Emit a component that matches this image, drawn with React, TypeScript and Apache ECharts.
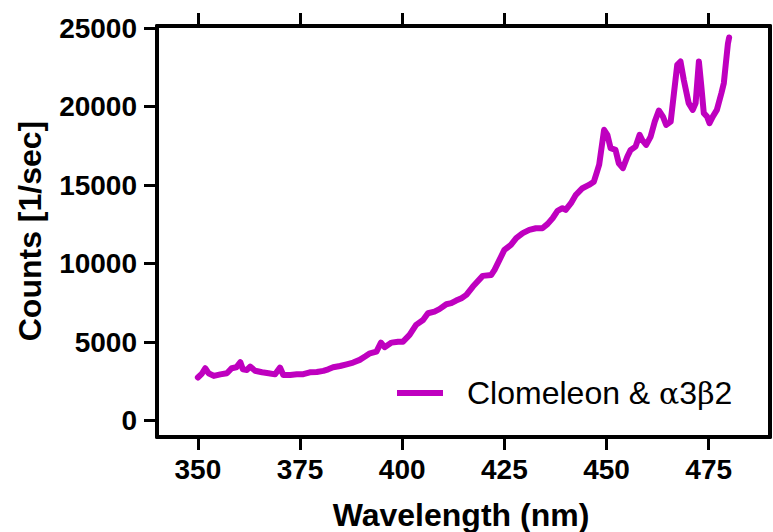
import React, { useEffect, useRef } from "react";
import * as echarts from "echarts";

const wavelengths = [
  350.0, 351.0, 351.8, 352.6, 353.9, 355.5, 357.1, 358.3, 359.4, 360.4, 361.0, 362.0, 362.8, 364.0,
  365.7, 367.3, 368.9, 370.1, 370.9, 372.6, 374.2, 375.8, 377.4, 379.1, 380.7, 381.9, 383.1, 384.8,
  386.4, 388.0, 389.6, 391.0, 392.1, 393.7, 394.8, 395.7, 397.4, 399.0, 400.2, 401.8, 403.4, 405.1,
  406.3, 407.9, 409.1, 410.8, 412.0, 413.2, 414.5, 415.7, 417.3, 419.7, 421.8, 422.6, 423.8, 425.0,
  426.6, 427.9, 429.5, 431.1, 432.7, 434.3, 435.6, 436.8, 438.0, 439.2, 440.0, 441.3, 442.5, 444.1,
  445.7, 446.9, 447.6, 448.2, 449.4, 450.2, 451.0, 452.2, 453.0, 454.0, 455.1, 455.9, 457.1, 458.1,
  458.7, 459.7, 460.8, 461.8, 462.8, 463.8, 464.6, 465.7, 466.5, 467.3, 468.1, 468.9, 470.1, 471.1,
  471.8, 472.6, 473.2, 473.8, 474.6, 475.2, 476.0, 477.0, 478.1, 478.7, 479.2, 479.7, 480.0,
];

const counts = [
  2750, 3000, 3340, 3020, 2850, 2950, 3020, 3340, 3400, 3720, 3270, 3230, 3440, 3180,
  3080, 3020, 2950, 3380, 2910, 2910, 2950, 2960, 3080, 3100, 3170, 3270, 3400, 3480,
  3590, 3700, 3870, 4100, 4290, 4400, 4970, 4680, 4970, 5030, 5030, 5460, 6100, 6410,
  6840, 6940, 7100, 7410, 7480, 7650, 7800, 8010, 8540, 9220, 9280, 9600, 10240, 10870,
  11190, 11620, 11940, 12150, 12250, 12250, 12530, 12890, 13360, 13530, 13420, 13850, 14380, 14800,
  15010, 15220, 15800, 16300, 18520, 18200, 17350, 17240, 16390, 16080, 16820, 17240, 17450, 18200,
  17880, 17560, 18090, 19040, 19750, 19360, 18830, 19040, 20850, 22660, 22870, 21700, 20220, 19790,
  20220, 22870, 21270, 19580, 19360, 18940, 19360, 19790, 20850, 21490, 22760, 24000, 24400,
];

const xTicks = [350, 375, 400, 425, 450, 475];
const yTicks = [0, 5000, 10000, 15000, 20000, 25000];

const seriesName = "Clomeleon & α3β2";
const xTitle = "Wavelength (nm)";
const yTitle = "Counts [1/sec]";

const FONT = "'Liberation Sans', Arial, Helvetica, sans-serif";
const LINE_COLOR = "#BF00BF";

export default function App() {
  const ref = useRef<HTMLDivElement>(null);

  useEffect(() => {
    document.body.style.margin = "0";
    if (!ref.current) return;
    const chart = echarts.init(ref.current, null, { renderer: "svg" });

    const axisLine = { show: true, onZero: false, lineStyle: { color: "#000", width: 4 } };
    const tickStyle = { color: "#000", width: 3 };
    const labelStyle = {
      fontFamily: FONT,
      fontWeight: "bold" as const,
      fontSize: 28,
      color: "#000",
      formatter: (v: number) => String(v),
    };

    chart.setOption({
      animation: false,
      backgroundColor: "#fff",
      grid: { left: 157, right: 3, top: 26, bottom: 95, containLabel: false },
      xAxis: [
        {
          type: "value",
          min: 340,
          max: 490,
          position: "bottom",
          axisLine,
          axisTick: { show: true, customValues: xTicks, length: 13, lineStyle: tickStyle },
          axisLabel: { show: true, customValues: xTicks, margin: 18, ...labelStyle },
          splitLine: { show: false },
        },
        {
          type: "value",
          min: 340,
          max: 490,
          position: "top",
          axisLine,
          axisTick: { show: true, customValues: xTicks, length: 13, lineStyle: tickStyle },
          axisLabel: { show: false },
          splitLine: { show: false },
        },
      ],
      yAxis: [
        {
          type: "value",
          min: -1040,
          max: 25130,
          position: "left",
          axisLine,
          axisTick: { show: true, customValues: yTicks, length: 13, lineStyle: tickStyle },
          axisLabel: { show: true, customValues: yTicks, margin: 20, ...labelStyle },
          splitLine: { show: false },
        },
        {
          type: "value",
          min: -1040,
          max: 25130,
          position: "right",
          axisLine,
          axisTick: { show: false },
          axisLabel: { show: false },
          splitLine: { show: false },
        },
      ],
      legend: {
        show: true,
        left: 397,
        top: 377,
        padding: 0,
        icon: "rect",
        itemWidth: 46,
        itemHeight: 6,
        data: [seriesName],
        formatter: () => "Clomeleon & {g|α}3{g|β}2",
        textStyle: {
          fontFamily: FONT,
          fontSize: 32,
          color: "#000",
          padding: [0, 0, 0, 19],
          rich: {
            g: { fontFamily: "'DejaVu Serif', 'Liberation Serif', serif", fontSize: 30, color: "#000" },
          },
        },
      },
      series: [
        {
          name: seriesName,
          type: "line",
          xAxisIndex: 0,
          yAxisIndex: 0,
          data: wavelengths.map((w, i) => [w, counts[i]]),
          showSymbol: false,
          symbol: "none",
          lineStyle: { color: LINE_COLOR, width: 6, join: "round", cap: "round" },
          itemStyle: { color: LINE_COLOR },
        },
      ],
      graphic: [
        {
          type: "text",
          x: 461,
          y: 515,
          style: {
            text: xTitle,
            font: `bold 32px ${FONT}`,
            fill: "#000",
            textAlign: "center",
            textVerticalAlign: "middle",
          },
        },
        {
          type: "text",
          x: 30,
          y: 231,
          rotation: Math.PI / 2,
          style: {
            text: yTitle,
            font: `bold 32px ${FONT}`,
            fill: "#000",
            textAlign: "center",
            textVerticalAlign: "middle",
          },
        },
      ],
    });

    return () => chart.dispose();
  }, []);

  return <div ref={ref} style={{ width: 773, height: 532 }} />;
}
